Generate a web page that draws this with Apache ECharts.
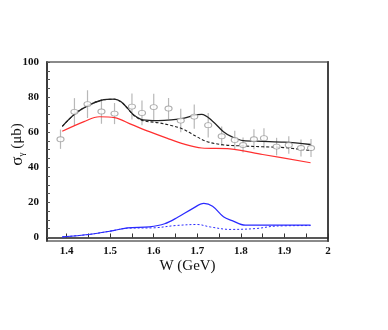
<!DOCTYPE html>
<html>
<head>
<meta charset="utf-8">
<script src="https://cdn.jsdelivr.net/npm/echarts@6/dist/echarts.min.js"></script>
<style>
  html, body { margin: 0; padding: 0; background: #fff; }
  #chart { width: 388px; height: 330px; }
</style>
</head>
<body>
<div id="chart"></div>
<script>
// measured points (W in GeV, sigma in microbarn)
var pointW   = [1.386, 1.418, 1.448, 1.48, 1.51, 1.55, 1.573, 1.60, 1.634, 1.662, 1.693, 1.725, 1.756, 1.786, 1.805, 1.83, 1.853, 1.882, 1.91, 1.938, 1.961]
var pointSig = [56, 71.6, 76, 71.8, 70.6, 74.6, 71, 74.3, 73.5, 66.6, 68.9, 64, 57.7, 55.6, 52.7, 56, 56.6, 51.8, 52.7, 51, 51]
var pointErr = [5.5, 7.8, 7.9, 7, 6, 7.4, 7, 7.6, 6, 6.7, 6.9, 7, 5.5, 5.2, 4.3, 5.7, 5.7, 5, 5, 4.8, 5.1]

// model curves
var blackW   = [1.39, 1.42, 1.45, 1.48, 1.51, 1.525, 1.54, 1.555, 1.575, 1.61, 1.64, 1.67, 1.69, 1.71, 1.735, 1.76, 1.78, 1.805, 1.85, 1.9, 1.96]
var blackSig = [63.3, 70.6, 75.3, 78.2, 78.8, 77.3, 73.6, 69.6, 67, 66.6, 67, 68, 69.5, 70.2, 66.3, 60.3, 57.3, 55.2, 54.8, 54.3, 53]

var dashW   = [1.39, 1.42, 1.45, 1.48, 1.51, 1.525, 1.54, 1.555, 1.575, 1.61, 1.64, 1.665, 1.69, 1.72, 1.76, 1.8, 1.85, 1.9, 1.96]
var dashSig = [63.3, 70.6, 75.3, 78.2, 78.8, 77.3, 73.6, 69.4, 66.6, 65.4, 63.8, 62, 58.7, 54.8, 52.8, 52.2, 51.7, 51.2, 49.5]

var redW   = [1.39, 1.44, 1.475, 1.51, 1.55, 1.59, 1.63, 1.67, 1.71, 1.775, 1.85, 1.96]
var redSig = [60.5, 66, 68.8, 68.3, 64.3, 60.3, 56.6, 53.2, 51, 50.5, 47.3, 42.6]

var blueW   = [1.39, 1.45, 1.5, 1.54, 1.59, 1.625, 1.655, 1.69, 1.715, 1.735, 1.76, 1.78, 1.81, 1.96]
var blueSig = [0.3, 1.7, 3.6, 5.5, 6.1, 7.8, 11.5, 16.6, 19.4, 17.8, 11.8, 9.6, 7, 7]

var blueDashW   = [1.39, 1.45, 1.5, 1.54, 1.6, 1.65, 1.7, 1.73, 1.775, 1.835, 1.88, 1.96]
var blueDashSig = [0.3, 1.7, 3.6, 5.3, 5.5, 6.8, 7.4, 6, 4.6, 5.1, 6.5, 6.8]

var xLabels = [1.4, 1.5, 1.6, 1.7, 1.8, 1.9, 2]
var xTicks  = [1.4, 1.45, 1.5, 1.55, 1.6, 1.65, 1.7, 1.75, 1.8, 1.85, 1.9, 1.95, 2]
var yLabels = [0, 20, 40, 60, 80, 100]
var yTicks  = [0, 5, 10, 15, 20, 25, 30, 35, 40, 45, 50, 55, 60, 65, 70, 75, 80, 85, 90, 95, 100]

function pairs(xs, ys) { return xs.map(function (x, i) { return [x, ys[i]] }) }

var serif = 'Liberation Serif'
var tickFont = { fontFamily: serif, fontWeight: 'bold', fontSize: 11, color: '#111' }

var chart = echarts.init(document.getElementById('chart'), null, { renderer: 'canvas' })

var line = function (xs, ys, color, type, width) {
    return {
        type: 'line', data: pairs(xs, ys), smooth: 0.35, symbol: 'none',
        lineStyle: { color: color, type: type, width: width }, z: 3, silent: true
    }
}

chart.setOption({
    animation: false,
    grid: {
        left: 47, top: 62, right: 60, bottom: 89, outerBoundsMode: 'none', containLabel: false,
        show: true, borderColor: '#8a8a8a', borderWidth: 2
    },
    xAxis: [{
        type: 'value', min: 1.355, max: 2,
        axisLine: { lineStyle: { color: '#222', width: 1.5 } },
        splitLine: { show: false },
        axisTick: { inside: true, length: 4, customValues: xTicks, lineStyle: { color: '#333' } },
        axisLabel: Object.assign({ customValues: xLabels, margin: 5, formatter: function (v) { return String(v) } }, tickFont),
        name: 'W (GeV)', nameLocation: 'middle', nameGap: 18, nameMoveOverlap: false,
        nameTextStyle: { fontFamily: serif, fontSize: 15, color: '#111', verticalAlign: 'top' }
    }],
    yAxis: [{
        type: 'value', min: -2, max: 100,
        axisLine: { show: true, lineStyle: { color: '#222', width: 1.5 } },
        splitLine: { show: false },
        axisTick: { inside: true, length: 3, customValues: yTicks, lineStyle: { color: '#555' } },
        axisLabel: Object.assign({ customValues: yLabels, margin: 8 }, tickFont),
        name: '{s|σ}{g|γ} (μb)', nameLocation: 'middle', nameGap: 21, nameRotate: 90, nameMoveOverlap: false,
        nameTextStyle: {
            fontFamily: serif, fontSize: 15, color: '#111', padding: [0, 0, 0, 14],
            rich: {
                s: { fontFamily: serif, fontSize: 17, color: '#111' },
                g: { fontFamily: serif, fontSize: 9, color: '#111', verticalAlign: 'bottom', padding: [6, 0, 0, 0] }
            }
        }
    }, {
        type: 'value', min: -2, max: 100, position: 'right',
        axisLine: { show: true, lineStyle: { color: '#444', width: 2 } },
        axisTick: { show: false }, axisLabel: { show: false }, splitLine: { show: false }
    }],
    series: [
        line(redW, redSig, '#ff3030', 'solid', 1.2),
        line(blackW, blackSig, '#222', 'solid', 1.3),
        line(dashW, dashSig, '#222', [3, 2], 1.1),
        line(blueW, blueSig, '#2a2aff', 'solid', 1.2),
        line(blueDashW, blueDashSig, '#2a2aff', [2, 2], 1),
        {
            type: 'custom', silent: true, z: 2,
            data: pointW.map(function (w, i) { return [w, pointSig[i] - pointErr[i], pointSig[i] + pointErr[i]] }),
            renderItem: function (params, api) {
                var lo = api.coord([api.value(0), api.value(1)])
                var hi = api.coord([api.value(0), api.value(2)])
                return {
                    type: 'line',
                    shape: { x1: lo[0], y1: lo[1], x2: hi[0], y2: hi[1] },
                    style: { stroke: '#b8b8b8', lineWidth: 1.2 }
                }
            }
        },
        {
            type: 'scatter', data: pairs(pointW, pointSig), silent: true, z: 4,
            symbol: 'circle', symbolSize: [7, 5],
            itemStyle: { color: '#fff', borderColor: '#999', borderWidth: 1 }
        }
    ]
})
</script>
</body>
</html>
